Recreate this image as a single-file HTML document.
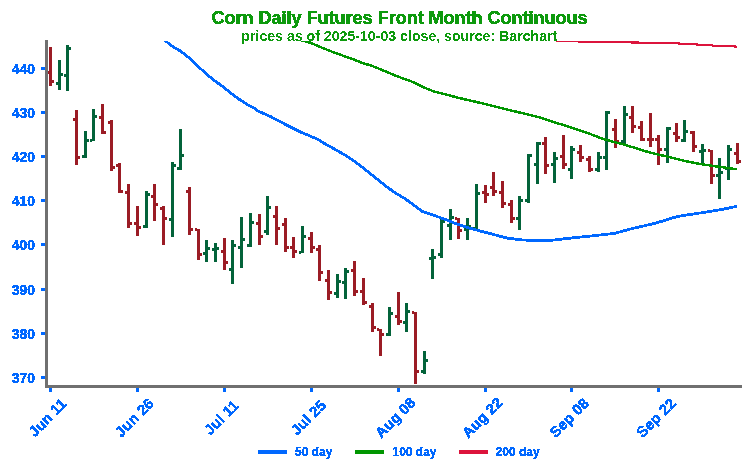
<!DOCTYPE html>
<html><head><meta charset="utf-8"><style>
html,body{margin:0;padding:0;background:#fff;}
body{width:750px;height:474px;overflow:hidden;}
svg{display:block;}
text{font-family:"Liberation Sans",sans-serif;}
</style></head><body>
<svg width="750" height="474" viewBox="0 0 750 474">
<rect width="750" height="474" fill="#fff"/>
<defs><filter id="al" x="-5%" y="-5%" width="110%" height="110%"><feComponentTransfer><feFuncA type="discrete" tableValues="0 1"/></feComponentTransfer></filter><clipPath id="ax"><rect x="46.5" y="41" width="694.5" height="345.5"/></clipPath></defs>
<g filter="url(#al)"><text x="399.6" y="23.7" text-anchor="middle" font-size="18" font-weight="bold" fill="#0a9a10" stroke="#0a9a10" stroke-width="0.5">Corn Daily Futures Front Month Continuous</text>
<text x="399.3" y="41.0" text-anchor="middle" font-size="14.15" font-weight="bold" fill="#0a9a10" stroke="#0a9a10" stroke-width="0.0">prices as of 2025-10-03 close, source: Barchart</text></g>
<g clip-path="url(#ax)">
<g shape-rendering="crispEdges">
<path fill="#9b1c25" d="M49 47h3V86h-3Z M47 71h2v3h-2Z M52 80h2v3h-2Z"/>
<path fill="#03633a" d="M58 60h3V90h-3Z M56 82h2v3h-2Z M61 73h2v3h-2Z"/>
<path fill="#03633a" d="M66 45h3V91h-3Z M64 74h2v3h-2Z M69 47h2v3h-2Z"/>
<path fill="#9b1c25" d="M75 110h3V165h-3Z M73 118h2v3h-2Z M78 156h2v3h-2Z"/>
<path fill="#03633a" d="M84 131h3V158h-3Z M82 155h2v3h-2Z M87 139h2v3h-2Z"/>
<path fill="#03633a" d="M92 109h3V141h-3Z M90 139h2v3h-2Z M95 115h2v3h-2Z"/>
<path fill="#9b1c25" d="M101 104h3V134h-3Z M99 116h2v3h-2Z M104 131h2v3h-2Z"/>
<path fill="#9b1c25" d="M110 120h3V171h-3Z M108 121h2v3h-2Z M113 166h2v3h-2Z"/>
<path fill="#9b1c25" d="M118 163h3V193h-3Z M116 164h2v3h-2Z M121 190h2v3h-2Z"/>
<path fill="#9b1c25" d="M127 184h3V228h-3Z M125 191h2v3h-2Z M130 222h2v3h-2Z"/>
<path fill="#9b1c25" d="M136 206h3V236h-3Z M134 222h2v3h-2Z M139 226h2v3h-2Z"/>
<path fill="#03633a" d="M145 191h3V228h-3Z M143 225h2v3h-2Z M148 193h2v3h-2Z"/>
<path fill="#9b1c25" d="M153 184h3V221h-3Z M151 195h2v3h-2Z M156 203h2v3h-2Z"/>
<path fill="#9b1c25" d="M162 206h3V245h-3Z M160 207h2v3h-2Z M165 217h2v3h-2Z"/>
<path fill="#03633a" d="M171 162h3V237h-3Z M169 218h2v3h-2Z M174 164h2v3h-2Z"/>
<path fill="#03633a" d="M179 129h3V170h-3Z M177 167h2v3h-2Z M182 154h2v3h-2Z"/>
<path fill="#9b1c25" d="M188 187h3V235h-3Z M186 190h2v3h-2Z M191 228h2v3h-2Z"/>
<path fill="#9b1c25" d="M197 229h3V260h-3Z M195 228h2v3h-2Z M200 253h2v3h-2Z"/>
<path fill="#03633a" d="M205 240h3V262h-3Z M203 252h2v3h-2Z M208 247h2v3h-2Z"/>
<path fill="#03633a" d="M214 243h3V262h-3Z M212 248h2v3h-2Z M217 247h2v3h-2Z"/>
<path fill="#9b1c25" d="M223 238h3V270h-3Z M221 250h2v3h-2Z M226 261h2v3h-2Z"/>
<path fill="#03633a" d="M231 240h3V284h-3Z M229 268h2v3h-2Z M234 244h2v3h-2Z"/>
<path fill="#03633a" d="M240 217h3V268h-3Z M238 246h2v3h-2Z M243 238h2v3h-2Z"/>
<path fill="#03633a" d="M249 213h3V247h-3Z M247 244h2v3h-2Z M252 221h2v3h-2Z"/>
<path fill="#9b1c25" d="M258 214h3V245h-3Z M256 222h2v3h-2Z M261 235h2v3h-2Z"/>
<path fill="#03633a" d="M266 196h3V235h-3Z M264 230h2v3h-2Z M269 206h2v3h-2Z"/>
<path fill="#9b1c25" d="M275 206h3V245h-3Z M273 215h2v3h-2Z M278 227h2v3h-2Z"/>
<path fill="#9b1c25" d="M284 218h3V252h-3Z M282 223h2v3h-2Z M287 246h2v3h-2Z"/>
<path fill="#9b1c25" d="M292 237h3V258h-3Z M290 246h2v3h-2Z M295 250h2v3h-2Z"/>
<path fill="#03633a" d="M301 226h3V253h-3Z M299 251h2v3h-2Z M304 235h2v3h-2Z"/>
<path fill="#9b1c25" d="M310 232h3V253h-3Z M308 237h2v3h-2Z M313 246h2v3h-2Z"/>
<path fill="#9b1c25" d="M318 245h3V281h-3Z M316 248h2v3h-2Z M321 271h2v3h-2Z"/>
<path fill="#9b1c25" d="M327 270h3V300h-3Z M325 279h2v3h-2Z M330 291h2v3h-2Z"/>
<path fill="#03633a" d="M336 274h3V298h-3Z M334 292h2v3h-2Z M339 280h2v3h-2Z"/>
<path fill="#03633a" d="M344 268h3V299h-3Z M342 281h2v3h-2Z M347 270h2v3h-2Z"/>
<path fill="#9b1c25" d="M353 261h3V296h-3Z M351 269h2v3h-2Z M356 290h2v3h-2Z"/>
<path fill="#9b1c25" d="M362 278h3V305h-3Z M360 290h2v3h-2Z M365 301h2v3h-2Z"/>
<path fill="#9b1c25" d="M371 303h3V332h-3Z M369 305h2v3h-2Z M374 326h2v3h-2Z"/>
<path fill="#9b1c25" d="M379 329h3V356h-3Z M377 328h2v3h-2Z M382 333h2v3h-2Z"/>
<path fill="#03633a" d="M388 307h3V336h-3Z M386 333h2v3h-2Z M391 312h2v3h-2Z"/>
<path fill="#9b1c25" d="M397 292h3V325h-3Z M395 315h2v3h-2Z M400 320h2v3h-2Z"/>
<path fill="#03633a" d="M405 303h3V332h-3Z M403 321h2v3h-2Z M408 310h2v3h-2Z"/>
<path fill="#9b1c25" d="M414 312h3V384h-3Z M412 311h2v3h-2Z M417 370h2v3h-2Z"/>
<path fill="#03633a" d="M423 351h3V374h-3Z M421 370h2v3h-2Z M426 359h2v3h-2Z"/>
<path fill="#03633a" d="M431 249h3V279h-3Z M429 257h2v3h-2Z M434 256h2v3h-2Z"/>
<path fill="#03633a" d="M440 219h3V258h-3Z M438 253h2v3h-2Z M443 220h2v3h-2Z"/>
<path fill="#03633a" d="M449 209h3V240h-3Z M447 224h2v3h-2Z M452 216h2v3h-2Z"/>
<path fill="#9b1c25" d="M457 218h3V239h-3Z M455 217h2v3h-2Z M460 229h2v3h-2Z"/>
<path fill="#03633a" d="M466 218h3V240h-3Z M464 228h2v3h-2Z M469 225h2v3h-2Z"/>
<path fill="#03633a" d="M475 184h3V229h-3Z M473 227h2v3h-2Z M478 192h2v3h-2Z"/>
<path fill="#9b1c25" d="M484 185h3V203h-3Z M482 191h2v3h-2Z M487 193h2v3h-2Z"/>
<path fill="#9b1c25" d="M492 172h3V196h-3Z M490 186h2v3h-2Z M495 190h2v3h-2Z"/>
<path fill="#9b1c25" d="M501 181h3V208h-3Z M499 191h2v3h-2Z M504 202h2v3h-2Z"/>
<path fill="#9b1c25" d="M510 200h3V223h-3Z M508 203h2v3h-2Z M513 217h2v3h-2Z"/>
<path fill="#03633a" d="M518 196h3V230h-3Z M516 217h2v3h-2Z M521 199h2v3h-2Z"/>
<path fill="#03633a" d="M527 154h3V203h-3Z M525 199h2v3h-2Z M530 154h2v3h-2Z"/>
<path fill="#03633a" d="M536 142h3V184h-3Z M534 163h2v3h-2Z M539 142h2v3h-2Z"/>
<path fill="#9b1c25" d="M544 137h3V174h-3Z M542 142h2v3h-2Z M547 164h2v3h-2Z"/>
<path fill="#03633a" d="M553 152h3V183h-3Z M551 163h2v3h-2Z M556 157h2v3h-2Z"/>
<path fill="#9b1c25" d="M562 135h3V169h-3Z M560 155h2v3h-2Z M565 163h2v3h-2Z"/>
<path fill="#03633a" d="M570 146h3V179h-3Z M568 168h2v3h-2Z M573 148h2v3h-2Z"/>
<path fill="#9b1c25" d="M579 145h3V162h-3Z M577 151h2v3h-2Z M582 156h2v3h-2Z"/>
<path fill="#9b1c25" d="M588 156h3V172h-3Z M586 158h2v3h-2Z M591 168h2v3h-2Z"/>
<path fill="#03633a" d="M597 152h3V172h-3Z M595 168h2v3h-2Z M600 156h2v3h-2Z"/>
<path fill="#03633a" d="M605 111h3V170h-3Z M603 156h2v3h-2Z M608 111h2v3h-2Z"/>
<path fill="#9b1c25" d="M614 119h3V148h-3Z M612 128h2v3h-2Z M617 140h2v3h-2Z"/>
<path fill="#03633a" d="M623 106h3V144h-3Z M621 140h2v3h-2Z M626 113h2v3h-2Z"/>
<path fill="#9b1c25" d="M631 106h3V133h-3Z M629 116h2v3h-2Z M634 125h2v3h-2Z"/>
<path fill="#9b1c25" d="M640 121h3V141h-3Z M638 126h2v3h-2Z M643 138h2v3h-2Z"/>
<path fill="#9b1c25" d="M649 113h3V147h-3Z M647 138h2v3h-2Z M652 138h2v3h-2Z"/>
<path fill="#9b1c25" d="M657 135h3V165h-3Z M655 138h2v3h-2Z M660 148h2v3h-2Z"/>
<path fill="#03633a" d="M666 127h3V163h-3Z M664 148h2v3h-2Z M669 127h2v3h-2Z"/>
<path fill="#9b1c25" d="M675 123h3V142h-3Z M673 132h2v3h-2Z M678 136h2v3h-2Z"/>
<path fill="#03633a" d="M683 120h3V142h-3Z M681 139h2v3h-2Z M686 130h2v3h-2Z"/>
<path fill="#9b1c25" d="M692 131h3V152h-3Z M690 131h2v3h-2Z M695 145h2v3h-2Z"/>
<path fill="#03633a" d="M701 144h3V164h-3Z M699 150h2v3h-2Z M704 149h2v3h-2Z"/>
<path fill="#9b1c25" d="M710 150h3V184h-3Z M708 149h2v3h-2Z M713 174h2v3h-2Z"/>
<path fill="#03633a" d="M718 158h3V199h-3Z M716 174h2v3h-2Z M721 171h2v3h-2Z"/>
<path fill="#03633a" d="M727 145h3V180h-3Z M725 167h2v3h-2Z M730 148h2v3h-2Z"/>
<path fill="#9b1c25" d="M736 143h3V164h-3Z M734 152h2v3h-2Z M739 160h2v3h-2Z"/>
</g>
<g fill="none" stroke-linejoin="round" shape-rendering="crispEdges">
<polyline points="150.0,32.0 165.0,40.5 171.9,46.0 180.3,51.0 188.8,57.5 197.2,65.4 205.7,73.5 214.1,80.3 222.6,86.5 231.0,93.3 239.5,99.5 247.9,104.8 253.8,108.0 258.4,111.2 270.3,116.4 283.8,123.6 300.7,132.1 317.6,139.2 326.0,144.4 334.5,149.0 345.0,155.1 353.4,160.5 361.9,166.9 370.3,173.6 378.8,180.4 387.2,187.2 395.7,193.1 404.1,198.1 412.6,204.1 422.7,211.7 432.8,215.0 445.0,219.3 453.3,222.7 466.7,227.3 480.0,231.0 493.3,234.4 506.7,238.0 520.0,239.8 533.3,240.5 544.7,240.6 552.0,240.2 559.3,239.4 574.0,237.7 588.7,236.3 600.0,235.0 615.0,233.3 632.0,228.6 653.3,223.7 664.3,220.6 670.0,218.5 680.0,216.0 690.0,214.5 700.0,213.0 710.0,211.5 720.0,209.8 730.0,207.8 737.1,206.2" stroke="#0068ff" stroke-width="2.8"/>
<polyline points="290.0,36.0 301.0,40.3 310.7,42.8 321.3,47.4 332.0,51.7 342.7,55.6 353.3,59.3 364.0,63.6 370.0,65.1 380.7,69.4 391.3,73.9 402.0,78.1 412.7,81.9 423.3,87.2 434.0,91.5 444.7,94.2 460.0,98.2 480.0,102.8 500.0,107.8 520.0,112.6 540.0,117.5 560.0,124.0 580.0,130.6 590.0,133.9 600.7,138.1 611.3,141.3 622.0,144.0 632.7,147.2 643.3,150.6 654.0,153.6 665.0,156.0 675.7,158.7 686.3,161.3 697.0,163.5 707.7,165.1 718.3,166.7 729.0,168.1 737.1,169.3" stroke="#009600" stroke-width="2.5"/>
<polyline points="480.0,37.5 540.0,39.8 559.0,40.6 581.0,41.6 609.0,42.2 643.0,42.6 672.0,43.2 685.0,43.8 702.0,44.8 714.0,45.6 731.0,46.3 737.1,46.6" stroke="#dc143c" stroke-width="2.1"/>
</g></g>
<g shape-rendering="crispEdges" fill="#707070"><rect x="45" y="40" width="3" height="348"/><rect x="45" y="385" width="697" height="3"/></g>
<g fill="#0068ff" shape-rendering="crispEdges"><rect x="41" y="67" width="4" height="3"/><rect x="41" y="111" width="4" height="3"/><rect x="41" y="155" width="4" height="3"/><rect x="41" y="199" width="4" height="3"/><rect x="41" y="243" width="4" height="3"/><rect x="41" y="288" width="4" height="3"/><rect x="41" y="332" width="4" height="3"/><rect x="41" y="376" width="4" height="3"/></g>
<g filter="url(#al)" fill="#0068ff" stroke="#0068ff" stroke-width="0.4" text-anchor="end" font-size="14" font-weight="bold"><text x="35" y="73.73">440</text><text x="35" y="117.90">430</text><text x="35" y="162.07">420</text><text x="35" y="206.23">410</text><text x="35" y="250.40">400</text><text x="35" y="294.57">390</text><text x="35" y="338.74">380</text><text x="35" y="382.90">370</text></g>
<g fill="#0068ff" shape-rendering="crispEdges"><rect x="49" y="388" width="3" height="4"/><rect x="136" y="388" width="3" height="4"/><rect x="223" y="388" width="3" height="4"/><rect x="310" y="388" width="3" height="4"/><rect x="397" y="388" width="3" height="4"/><rect x="484" y="388" width="3" height="4"/><rect x="570" y="388" width="3" height="4"/><rect x="657" y="388" width="3" height="4"/></g>
<g filter="url(#al)" fill="#0068ff" stroke="#0068ff" stroke-width="0.4" text-anchor="middle" font-size="15" font-weight="bold"><text transform="translate(47.43,417.5) rotate(-45)" x="0" y="5.40">Jun 11</text><text transform="translate(134.35,417.5) rotate(-45)" x="0" y="5.40">Jun 26</text><text transform="translate(221.27,417.5) rotate(-45)" x="0" y="5.40">Jul 11</text><text transform="translate(308.19,417.5) rotate(-45)" x="0" y="5.40">Jul 25</text><text transform="translate(395.11,417.5) rotate(-45)" x="0" y="5.40">Aug 08</text><text transform="translate(482.03,417.5) rotate(-45)" x="0" y="5.40">Aug 22</text><text transform="translate(568.95,417.5) rotate(-45)" x="0" y="5.40">Sep 08</text><text transform="translate(655.87,417.5) rotate(-45)" x="0" y="5.40">Sep 22</text></g>
<g shape-rendering="crispEdges">
<rect x="258" y="450" width="29" height="4" fill="#0068ff"/>
<rect x="355" y="450" width="29" height="4" fill="#009600"/>
<rect x="459" y="450" width="29" height="4" fill="#dc143c"/>
</g>
<g filter="url(#al)" fill="#0068ff" stroke="#0068ff" stroke-width="0.3" font-size="12" font-weight="bold">
<text x="295" y="455.5">50 day</text>
<text x="392.5" y="455.5">100 day</text>
<text x="495.6" y="455.5">200 day</text>
</g>
</svg></body></html>
